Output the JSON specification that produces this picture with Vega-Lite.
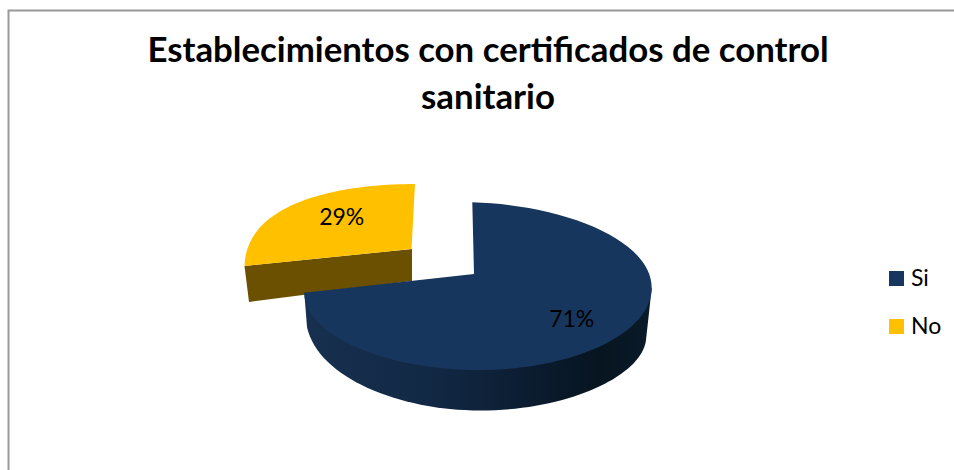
{
"$schema":"https://vega.github.io/schema/vega-lite/v6.json",
"width":948,"height":466,
"autosize":{"type":"none"},
"padding":{"left":8.5,"top":10.5,"right":-2.5,"bottom":-6.5},
"background":"#ffffff",
"view":{"stroke":"#999999","strokeWidth":2,"fill":"#ffffff"},
"title":{"text":["Establecimientos con certificados de control","sanitario"],"font":"Lato","fontSize":34.8,"fontWeight":"bold","color":"#000000","lineHeight":47,"anchor":"middle","frame":"group","dx":5.5,"baseline":"top","offset":-106},
"data":{"values":[{"categoria":"Si","valor":0.71},{"categoria":"No","valor":0.29}]},
"layer":[
{"transform":[{"filter":"datum.categoria==='No'"}],"mark":{"type":"point","filled":true,"opacity":1,"size":4,"strokeWidth":0,"xOffset":-482.5,"yOffset":-243.5,"fill":"#6a5000","shape":"M244.5,266 L412,249 L412,281 L249,302 Z"},"encoding":{}},
{"transform":[{"filter":"datum.categoria==='Si'"}],"mark":{"type":"point","filled":true,"opacity":1,"size":4,"strokeWidth":0,"xOffset":-482.5,"yOffset":-243.5,"fill":{"gradient":"linear","x1":0,"y1":0,"x2":1,"y2":0,"stops":[{"offset":0,"color":"#17304f"},{"offset":0.35,"color":"#122945"},{"offset":0.65,"color":"#0b1c30"},{"offset":0.85,"color":"#071520"},{"offset":1,"color":"#0a1a29"}]},"shape":"M304.3,292.7 L307,327 C318,378 400,410.5 480,410.5 C570,410.5 642,375 646,340 L651.7,288 Z"},"encoding":{}},
{"transform":[{"filter":"datum.categoria==='Si'"}],"mark":{"type":"point","filled":true,"opacity":1,"size":4,"strokeWidth":0,"xOffset":-482.5,"yOffset":-243.5,"shape":"M474,274 L472.3,202.3 C565,205 651.7,240 651.7,288 C651.7,335 570,370 480,370 C385,370 304,335 304.3,292.7 Z"},
 "encoding":{
  "color":{"field":"categoria","type":"nominal","scale":{"domain":["Si","No"],"range":["#17365d","#ffc000"]},"legend":{"orient":"none","legendX":876.5,"legendY":256.5,"title":null,"symbolType":"square","symbolSize":225,"symbolOpacity":1,"symbolStrokeWidth":0,"labelFontSize":23,"labelFont":"Lato","labelColor":"#000000","labelOffset":3,"rowPadding":24}}
 }},
{"transform":[{"filter":"datum.categoria==='No'"}],"mark":{"type":"point","filled":true,"opacity":1,"size":4,"strokeWidth":0,"xOffset":-482.5,"yOffset":-243.5,"shape":"M411.5,249 L415,184 C345,184 246,200 244.5,266 Z"},
 "encoding":{
  "color":{"field":"categoria","type":"nominal"}
 }},
{"transform":[{"filter":"datum.categoria==='Si'"}],"mark":{"type":"text","font":"Lato","fontSize":23,"color":"#000000","xOffset":89.2,"yOffset":76.5},"encoding":{"text":{"field":"valor","type":"quantitative","format":".0%"}}},
{"transform":[{"filter":"datum.categoria==='No'"}],"mark":{"type":"text","font":"Lato","fontSize":23,"color":"#000000","xOffset":-140.8,"yOffset":-25.5},"encoding":{"text":{"field":"valor","type":"quantitative","format":".0%"}}}
]
}
